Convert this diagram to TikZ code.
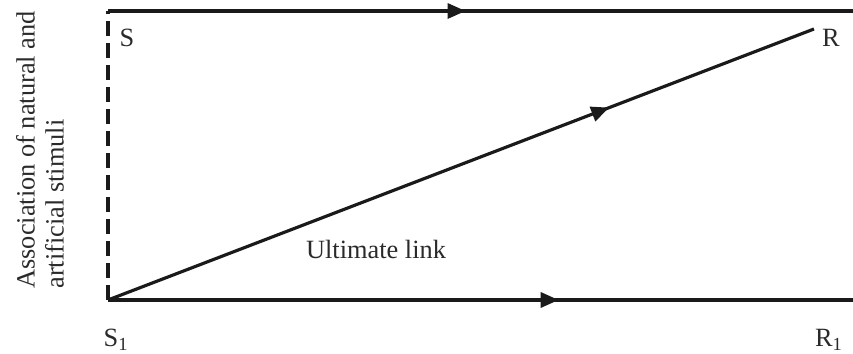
\documentclass[tikz,border=0pt]{standalone}
\usepackage{fontspec}
\setmainfont{Liberation Serif}
\usepackage{tikz}
\usetikzlibrary{arrows.meta,decorations.markings}
\definecolor{lnk}{HTML}{1A1A1A}
\definecolor{txt}{HTML}{2A2A2A}
\tikzset{
  midarr/.style={decoration={markings,
      mark=at position #1 with {\arrow{Triangle[length=0.36cm,width=0.3cm]}}},
      postaction={decorate}},
  plink/.style={draw=lnk, line width=1.8pt},
  dlink/.style={draw=lnk, line width=1.8pt, dash pattern=on 0.3cm off 0.14cm},
  plbl/.style={txt, font=\fontsize{15}{16.5}\selectfont, inner sep=0pt},
}

\begin{document}
\begin{tikzpicture}[x=0.02cm,y=-0.02cm]
  \useasboundingbox (0,0) rectangle (853,354);

  % corners
  \coordinate (sone) at (108,300);
  \coordinate (stop) at (108,11);
  \coordinate (tend) at (853,11);
  \coordinate (bend) at (853,300);
  \coordinate (rtip) at (814,29);

  % labels
  \node[plbl] (s)  at (127,38)  {S};
  \node[plbl] (r)  at (831,38)  {R};
  \node[plbl] (s1) at (116,340) {S\textsubscript{1}};
  \node[plbl] (r1) at (829,340) {R\textsubscript{1}};
  \node[plbl] (ult) at (376,249) {Ultimate link};
  \node[plbl, rotate=90, align=left] (assoc) at (40,150)
    {Association of natural and\\artificial stimuli};

  % links
  \draw[dlink] (sone) -- (stop);
  \draw[plink, midarr=0.48] (stop) -- (tend);
  \draw[plink, midarr=0.605] (sone) -- (bend);
  \draw[plink, midarr=0.71] (sone) -- (rtip);

\end{tikzpicture}
\end{document}
